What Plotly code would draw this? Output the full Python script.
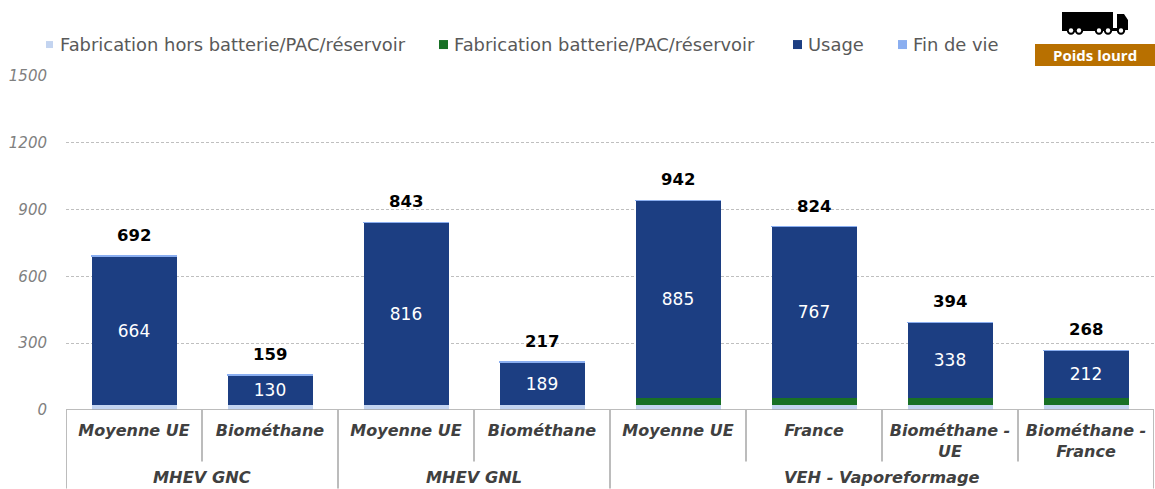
import plotly.graph_objects as go

W, H = 1155, 489
L, R, T, B = 66, 1, 76, 78.5
FONT = "DejaVu Sans"

categories = ["Moyenne UE", "Biométhane", "Moyenne UE", "Biométhane", "Moyenne UE", "France",
              "Biométhane -<br>UE", "Biométhane -<br>France"]
groups = ["MHEV GNC", "MHEV GNL", "VEH - Vaporeformage"]
group_spans = [(0, 1), (2, 3), (4, 7)]
fabrication = [24, 24, 24, 24, 24, 24, 24, 24]
batterie = [0, 0, 0, 0, 31, 31, 31, 31]
usage = [664, 130, 816, 189, 885, 767, 338, 212]
fin_de_vie = [4, 5, 3, 4, 2, 2, 1, 1]
totals = [692, 159, 843, 217, 942, 824, 394, 268]
y_ticks = [0, 300, 600, 900, 1200, 1500]
names = ["Fabrication hors batterie/PAC/réservoir", "Fabrication batterie/PAC/réservoir", "Usage", "Fin de vie"]
colors = ["#C3D4F0", "#187025", "#1C3E82", "#8AAEF0"]
legend_swatch_x = [46, 439, 793, 898]
legend_swatch_size = [7, 9, 9, 9]
legend_text_x = [59, 453, 807, 912]

idx = list(range(len(categories)))
fig = go.Figure()
for name, vals, col in zip(names, [fabrication, batterie, usage, fin_de_vie], colors):
    show = name == "Usage"
    line = dict(color=col, width=1) if name == "Fin de vie" else dict(width=0)
    fig.add_bar(x=idx, y=vals, name=name, marker=dict(color=col, line=line), width=0.625,
                showlegend=False,
                text=[str(v) for v in vals] if show else None,
                textposition="inside" if show else None,
                insidetextanchor="middle" if show else None,
                constraintext="none" if show else None,
                textangle=0 if show else None,
                insidetextfont=dict(family=FONT, size=17, color="white") if show else None,
                hoverinfo="y")

px = lambda x: (x - L) / (W - L - R)
py = lambda y: 1 - (y - T) / (H - T - B)

shapes, anns = [], []
for i, t in zip(idx, totals):
    anns.append(dict(text=str(t), xref="x", yref="y", x=i, y=t, yanchor="bottom", yshift=9, showarrow=False,
                     font=dict(family=FONT, size=16.5, color="black", weight="bold")))
# baseline and dividers
shapes.append(dict(type="line", xref="x", yref="y", x0=-0.5, x1=7.5, y0=0, y1=0,
                   line=dict(color="#A6A6A6", width=1.5), layer="above"))
for i in range(9):
    x = i - 0.5
    tall = i in (0, 2, 4, 8)
    shapes.append(dict(type="line", xref="x", yref="paper", x0=x, x1=x, y0=py(489 if tall else 462), y1=py(410.5),
                       line=dict(color="#A6A6A6", width=1.5)))
for g, (a, b) in zip(groups, group_spans):
    anns.append(dict(text=g, xref="x", yref="paper", x=(a + b) / 2, y=py(478.5), showarrow=False, yanchor="middle",
                     font=dict(family=FONT, size=16.2, color="#404040", weight="bold", style="italic")))
# legend
for n, c, sx, ss, tx in zip(names, colors, legend_swatch_x, legend_swatch_size, legend_text_x):
    shapes.append(dict(type="rect", xref="paper", yref="paper", x0=px(sx), x1=px(sx + ss),
                       y0=py(44.5 - ss / 2), y1=py(44.5 + ss / 2), fillcolor=c, line=dict(width=0)))
    anns.append(dict(text=n, xref="paper", yref="paper", x=px(tx), y=py(44.5), xanchor="left", yanchor="middle",
                     showarrow=False, xshift=-1, font=dict(family=FONT, size=17.9, color="#595959")))
# badge
shapes.append(dict(type="rect", xref="paper", yref="paper", x0=px(1035), x1=px(1155), y0=py(66), y1=py(44),
                   fillcolor="#B87000", line=dict(width=0)))
anns.append(dict(text="Poids lourd", xref="paper", yref="paper", x=px(1095), y=py(55), showarrow=False,
                 xanchor="center", yanchor="middle",
                 font=dict(family="Open Sans", size=15, color="white", weight="bold")))
# truck icon
def rect(x0, y0, x1, y1, col="black"):
    shapes.append(dict(type="rect", xref="paper", yref="paper", x0=px(x0), x1=px(x1), y0=py(y1), y1=py(y0),
                       fillcolor=col, line=dict(width=0)))
def circ(cx, cy, r, col):
    shapes.append(dict(type="circle", xref="paper", yref="paper", x0=px(cx - r), x1=px(cx + r), y0=py(cy + r),
                       y1=py(cy - r), fillcolor=col, line=dict(width=0)))
rect(1062, 12, 1113, 30)
rect(1062, 28, 1125, 31)
shapes.append(dict(type="path", xref="paper", yref="paper",
                   path=f"M{px(1117)},{py(14)} L{px(1124)},{py(14)} L{px(1128)},{py(20)} L{px(1128)},{py(30)} L{px(1117)},{py(30)} Z",
                   fillcolor="black", line=dict(width=0)))
for cx in (1071, 1079, 1099, 1108, 1121):
    circ(cx, 30.5, 4.2, "black")
    circ(cx, 30.5, 2.2, "white")

fig.update_layout(
    width=W, height=H, margin=dict(l=L, r=R, t=T, b=B, pad=0), barmode="stack",
    paper_bgcolor="white", plot_bgcolor="white", shapes=shapes, annotations=anns, showlegend=False,
    xaxis=dict(range=[-0.5, 7.5], tickmode="array", tickvals=idx, ticktext=categories,
               showgrid=False, zeroline=False, showline=False, ticks="", ticklabelstandoff=9,
               tickangle=0, tickfont=dict(family=FONT, size=16, color="#404040", weight="bold", style="italic")),
    yaxis=dict(range=[0, 1500], tickmode="array", tickvals=y_ticks, ticks="", ticklabelstandoff=18,
               showgrid=True, gridcolor="#BFBFBF", griddash="3px,2px", gridwidth=1, zeroline=True,
               zerolinecolor="white", showline=False,
               tickfont=dict(family=FONT, size=15, color="#808080", style="italic")),
)
fig.write_html("out.html", config=dict(displayModeBar=False), post_script="document.body.style.margin='0';")
